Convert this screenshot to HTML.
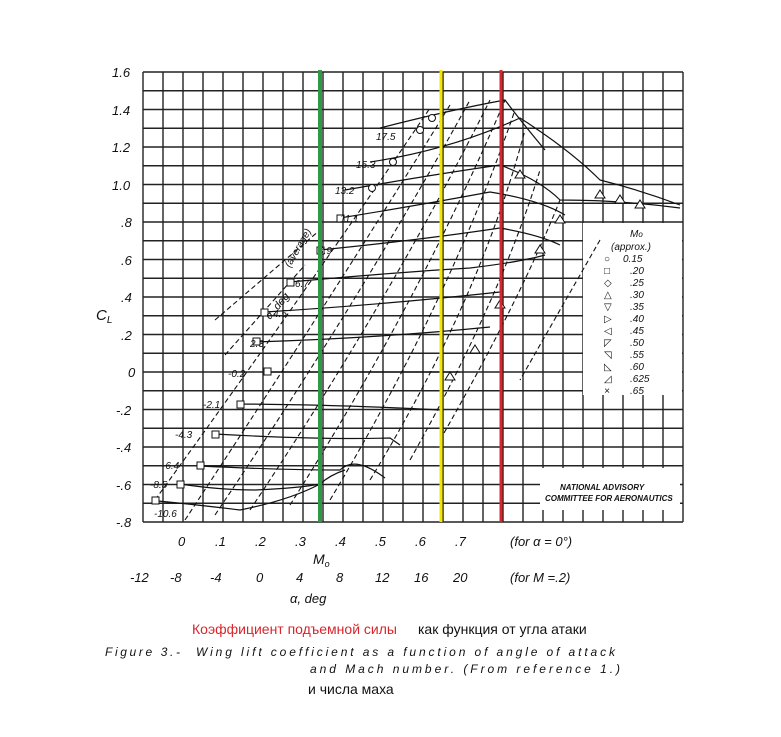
<!DOCTYPE html>
<html><head><meta charset="utf-8"><style>
body{margin:0;background:#fff;width:781px;height:732px;overflow:hidden}
svg text{font-family:"Liberation Sans","DejaVu Sans",sans-serif;font-style:italic}
</style></head><body>
<svg width="781" height="732" viewBox="0 0 781 732" xmlns="http://www.w3.org/2000/svg">
<g stroke="#222" stroke-width="1.4">
<path d="M143 72V522M163 72V522M183 72V522M203 72V522M223 72V522M243 72V522M263 72V522M283 72V522M303 72V522M323 72V522M343 72V522M363 72V522M383 72V522M403 72V522M423 72V522M443 72V522M463 72V522M483 72V522M503 72V522M523 72V522M543 72V522M563 72V522M583 72V522M603 72V522M623 72V522M643 72V522M663 72V522M683 72V522"/>
<path d="M143 72H683M143 90.75H683M143 109.5H683M143 128.25H683M143 147H683M143 165.75H683M143 184.5H683M143 203.25H683M143 222H683M143 240.75H683M143 259.5H683M143 278.25H683M143 297H683M143 315.75H683M143 334.5H683M143 353.25H683M143 372H683M143 390.75H683M143 409.5H683M143 428.25H683M143 447H683M143 465.75H683M143 484.5H683M143 503.25H683M143 522H683"/>
</g>
<rect x="583" y="223" width="99" height="172" fill="#fff"/>
<rect x="540" y="468" width="140" height="42" fill="#fff"/>
<g fill="none" stroke="#111" stroke-width="1.1" stroke-dasharray="5,3">
<path d="M155 500 Q300 300 430 108"/>
<path d="M185 520 Q330 300 450 105"/>
<path d="M215 515 Q360 300 470 100"/>
<path d="M250 510 Q390 300 490 100"/>
<path d="M290 505 Q420 300 505 100"/>
<path d="M330 500 Q450 300 515 110"/>
<path d="M370 480 Q480 300 525 130"/>
<path d="M410 460 Q500 300 540 170"/>
<path d="M440 440 Q520 300 560 200"/>
<path d="M225 355 L305 265 M215 320 L320 230 M600 240 L520 380"/>
</g>
<g fill="none" stroke="#111" stroke-width="1.2">
<path d="M380 128 Q450 110 505 100 Q520 120 545 150"/>
<path d="M370 162 Q450 150 520 118 Q570 150 600 180 Q640 190 680 205"/>
<path d="M345 190 Q430 175 500 165 Q540 180 560 200 Q620 200 680 208"/>
<path d="M340 218 Q420 205 490 192 Q540 200 565 215"/>
<path d="M320 250 Q420 240 500 228 Q540 235 560 245"/>
<path d="M290 282 Q400 272 470 268 Q520 262 545 255"/>
<path d="M265 312 Q380 305 500 292"/>
<path d="M255 342 Q380 338 490 327"/>
<path d="M268 372 L460 372"/>
<path d="M240 404 Q350 405 440 410"/>
<path d="M215 434 Q320 440 390 438 L400 445"/>
<path d="M200 466 Q280 470 340 470 Q355 455 385 478"/>
<path d="M180 484 Q220 490 255 490 Q300 488 320 484 Q330 475 345 470"/>
<path d="M158 501 Q200 505 240 510 Q290 500 320 484"/>
</g>
<g fill="#fff" stroke="#111" stroke-width="1">
<rect x="152" y="497" width="7" height="7"/><rect x="177" y="481" width="7" height="7"/><rect x="197" y="462" width="7" height="7"/><rect x="212" y="431" width="7" height="7"/><rect x="237" y="401" width="7" height="7"/><rect x="264" y="368" width="7" height="7"/><rect x="253" y="338" width="7" height="7"/><rect x="261" y="309" width="7" height="7"/><rect x="287" y="279" width="7" height="7"/><rect x="317" y="247" width="7" height="7"/><rect x="337" y="215" width="7" height="7"/>
<circle cx="372" cy="188" r="3.5"/><circle cx="393" cy="162" r="3.5"/><circle cx="420" cy="130" r="3.5"/><circle cx="432" cy="118" r="3.5"/>
<path d="M600 190l5 8h-10z M620 195l5 8h-10z M640 200l5 8h-10z M560 215l5 8h-10z M500 300l5 8h-10z M475 345l5 8h-10z M450 372l5 8h-10z M520 170l5 8h-10z M540 245l5 8h-10z"/>
</g>
<g font-size="13" fill="#111">
<text x="112" y="77">1.6</text><text x="112" y="115">1.4</text><text x="112" y="152">1.2</text><text x="112" y="190">1.0</text><text x="121" y="227">.8</text><text x="121" y="265">.6</text><text x="121" y="302">.4</text><text x="121" y="340">.2</text><text x="128" y="377">0</text><text x="116" y="415">-.2</text><text x="116" y="452">-.4</text><text x="116" y="490">-.6</text><text x="116" y="527">-.8</text>
<text x="96" y="320" font-size="15">C<tspan font-size="10" dy="3">L</tspan></text>
<g font-size="10"><text x="376" y="140">17.5</text><text x="356" y="168">15.3</text><text x="335" y="194">13.2</text><text x="340" y="222">11.1</text><text x="318" y="254">8.9</text><text x="295" y="287">6.7</text><text x="273" y="317">4.5</text><text x="250" y="347">2.3</text><text x="228" y="377">-0.2</text><text x="203" y="408">-2.1</text><text x="175" y="438">-4.3</text><text x="162" y="469">-6.4</text><text x="150" y="488">-8.5</text><text x="154" y="517">-10.6</text></g>
<text x="290" y="268" font-size="10" transform="rotate(-60 290 268)">(average)</text>
<text x="270" y="320" font-size="11" transform="rotate(-50 270 320)">α, deg</text>
<text x="178" y="546">0</text><text x="215" y="546">.1</text><text x="255" y="546">.2</text><text x="295" y="546">.3</text><text x="335" y="546">.4</text><text x="375" y="546">.5</text><text x="415" y="546">.6</text><text x="455" y="546">.7</text>
<text x="510" y="546">(for α = 0°)</text>
<text x="313" y="564" font-size="14">M<tspan font-size="9" dy="3">o</tspan></text>
<text x="130" y="582">-12</text><text x="170" y="582">-8</text><text x="210" y="582">-4</text><text x="256" y="582">0</text><text x="296" y="582">4</text><text x="336" y="582">8</text><text x="375" y="582">12</text><text x="414" y="582">16</text><text x="453" y="582">20</text>
<text x="510" y="582">(for M =.2)</text>
<text x="290" y="603">α, deg</text>
<g font-size="10"><text x="630" y="237">M<tspan font-size="8">o</tspan></text><text x="611" y="250">(approx.)</text>
<text x="604" y="262">○</text><text x="623" y="262">0.15</text>
<text x="604" y="274">□</text><text x="630" y="274">.20</text>
<text x="604" y="286">◇</text><text x="630" y="286">.25</text>
<text x="604" y="298">△</text><text x="630" y="298">.30</text>
<text x="604" y="310">▽</text><text x="630" y="310">.35</text>
<text x="604" y="322">▷</text><text x="630" y="322">.40</text>
<text x="604" y="334">◁</text><text x="630" y="334">.45</text>
<text x="604" y="346">◸</text><text x="630" y="346">.50</text>
<text x="604" y="358">◹</text><text x="630" y="358">.55</text>
<text x="604" y="370">◺</text><text x="630" y="370">.60</text>
<text x="604" y="382">◿</text><text x="630" y="382">.625</text>
<text x="604" y="394">×</text><text x="630" y="394">.65</text></g>
<text x="560" y="490" font-size="8" font-style="normal" font-weight="bold">NATIONAL ADVISORY</text>
<text x="545" y="501" font-size="8" font-style="normal" font-weight="bold">COMMITTEE FOR AERONAUTICS</text>
</g>
<line x1="320" y1="70" x2="320" y2="522" stroke="#2e9a45" stroke-width="4"/>
<line x1="441" y1="70" x2="441" y2="522" stroke="#f3e600" stroke-width="3"/>
<line x1="501" y1="70" x2="501" y2="522" stroke="#d9252b" stroke-width="3"/>
<text x="192" y="634" font-size="14" fill="#d9252b" style="font-style:normal">Коэффициент подъемной силы</text>
<text x="418" y="634" font-size="14" fill="#111" style="font-style:normal">как функция от угла атаки</text>
<text x="105" y="656" font-size="12" fill="#111" textLength="75" lengthAdjust="spacing">Figure 3.-</text>
<text x="196" y="656" font-size="12" fill="#111" textLength="419" lengthAdjust="spacing">Wing lift coefficient as a function of angle of attack</text>
<text x="310" y="673" font-size="12" fill="#111" textLength="310" lengthAdjust="spacing">and Mach number. (From reference 1.)</text>
<text x="308" y="694" font-size="14" fill="#111" style="font-style:normal">и числа маха</text>
</svg>
</body></html>
